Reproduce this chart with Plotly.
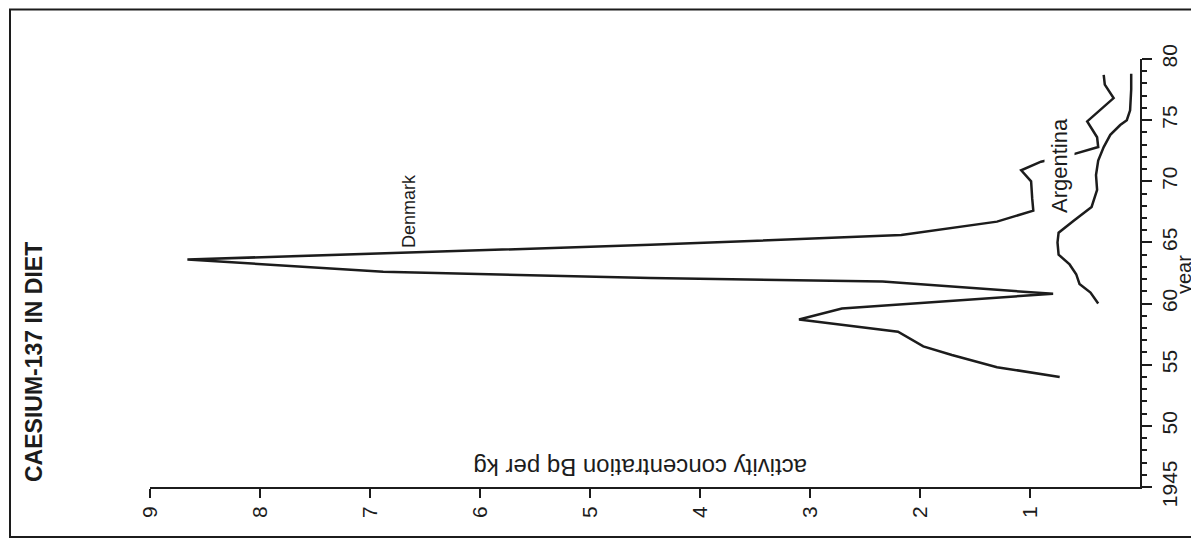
import plotly.graph_objects as go

# ---- data ----
denmark_year = [1954.0, 1954.8, 1955.8, 1956.5, 1957.7, 1958.7, 1959.6, 1960.8, 1961.8, 1962.1,
                1962.6, 1963.6, 1964.8, 1965.6, 1966.7, 1967.6, 1968.6, 1970.0, 1970.9, 1971.6,
                1972.2, 1972.8, 1973.6, 1974.9, 1976.8, 1977.9, 1978.7]
denmark_val = [0.73, 1.30, 1.71, 1.97, 2.20, 3.10, 2.71, 0.79, 2.34, 4.45,
               6.88, 8.66, 4.45, 2.17, 1.30, 0.97, 0.98, 0.99, 1.08, 0.90,
               0.61, 0.38, 0.39, 0.48, 0.24, 0.32, 0.33]

argentina_year = [1960.0, 1960.9, 1961.6, 1962.4, 1963.2, 1964.0, 1965.0, 1965.8, 1966.8, 1967.9,
                  1969.3, 1970.5, 1971.7, 1972.8, 1973.8, 1974.6, 1975.0, 1975.8, 1977.5, 1978.8]
argentina_val = [0.38, 0.45, 0.55, 0.58, 0.64, 0.74, 0.75, 0.74, 0.60, 0.44,
                 0.39, 0.40, 0.38, 0.33, 0.27, 0.18, 0.12, 0.09, 0.08, 0.08]

activity_ticks = [1, 2, 3, 4, 5, 6, 7, 8, 9]
year_ticks = [1945, 1950, 1955, 1960, 1965, 1970, 1975, 1980]
year_labels = ["1945", "50", "55", "60", "65", "70", "75", "80"]

title_text = "CAESIUM-137 IN DIET"
x_title = "activity concentration Bq per kg"
y_title = "year"

INK = "#1c1c1c"
FONT = "Liberation Sans Narrow, Liberation Sans, Arial, sans-serif"

# page body has an 8px margin -> figure drawn 8px in from the window corner
OFF = 8
PL, PR, PT, PB = 150, 1140, 59, 487  # plot area in window pixels
W, H = 1199 - OFF, 540 - OFF


def px(xw):
    return (xw - PL) / (PR - PL)


def py(yw):
    return (PB - yw) / (PB - PT)


fig = go.Figure()
for yr, val in [(denmark_year, denmark_val), (argentina_year, argentina_val)]:
    fig.add_trace(go.Scatter(x=val, y=yr, mode="lines",
                             line=dict(color=INK, width=2.5), showlegend=False,
                             hoverinfo="skip"))

fig.update_layout(
    width=W, height=H, autosize=False,
    margin=dict(l=PL - OFF, r=W - (PR - OFF), t=PT - OFF, b=H - (PB - OFF)),
    paper_bgcolor="white", plot_bgcolor="white",
    font=dict(family=FONT, color=INK),
    showlegend=False,
    xaxis=dict(range=[9, 0], showgrid=False, zeroline=False,
               showline=True, linecolor=INK, linewidth=2,
               ticks="outside", ticklen=9, tickwidth=2, tickcolor=INK,
               tickvals=activity_ticks, tickangle=-90,
               tickfont=dict(size=21, family=FONT, color=INK)),
    yaxis=dict(range=[1945, 1980], side="right", showgrid=False, zeroline=False,
               showline=True, linecolor=INK, linewidth=2,
               ticks="outside", ticklen=10, tickwidth=2, tickcolor=INK,
               tickvals=year_ticks, ticktext=year_labels, tickangle=-90,
               tickfont=dict(size=21, family=FONT, color=INK),
               minor=dict(dtick=1, ticks="outside", ticklen=5, tickwidth=2, tickcolor=INK)),
)

# outer frame of the scanned figure
fig.add_shape(type="rect", xref="paper", yref="paper",
              x0=px(10), x1=px(1215), y0=py(537), y1=py(9.5),
              line=dict(color=INK, width=2))

common = dict(xref="paper", yref="paper", showarrow=False,
              xanchor="center", yanchor="middle")
fig.add_annotation(text="<b>" + title_text + "</b>", x=px(34), y=py(362), textangle=-90,
                   font=dict(size=23, family=FONT, color=INK), **common)
fig.add_annotation(text=x_title, x=px(640), y=py(468), textangle=180,
                   font=dict(size=24, family=FONT, color=INK), **common)
fig.add_annotation(text=y_title, x=px(1184), y=py(275), textangle=-90,
                   font=dict(size=20, family=FONT, color=INK), **common)
fig.add_annotation(text="Denmark", x=px(409), y=py(211), textangle=-90,
                   font=dict(size=18, family=FONT, color=INK), **common)
fig.add_annotation(text="Argentina", x=px(1059), y=py(166), textangle=-90,
                   bgcolor="white", borderpad=2,
                   font=dict(size=22, family=FONT, color=INK), **common)

fig.write_html("out.html")
